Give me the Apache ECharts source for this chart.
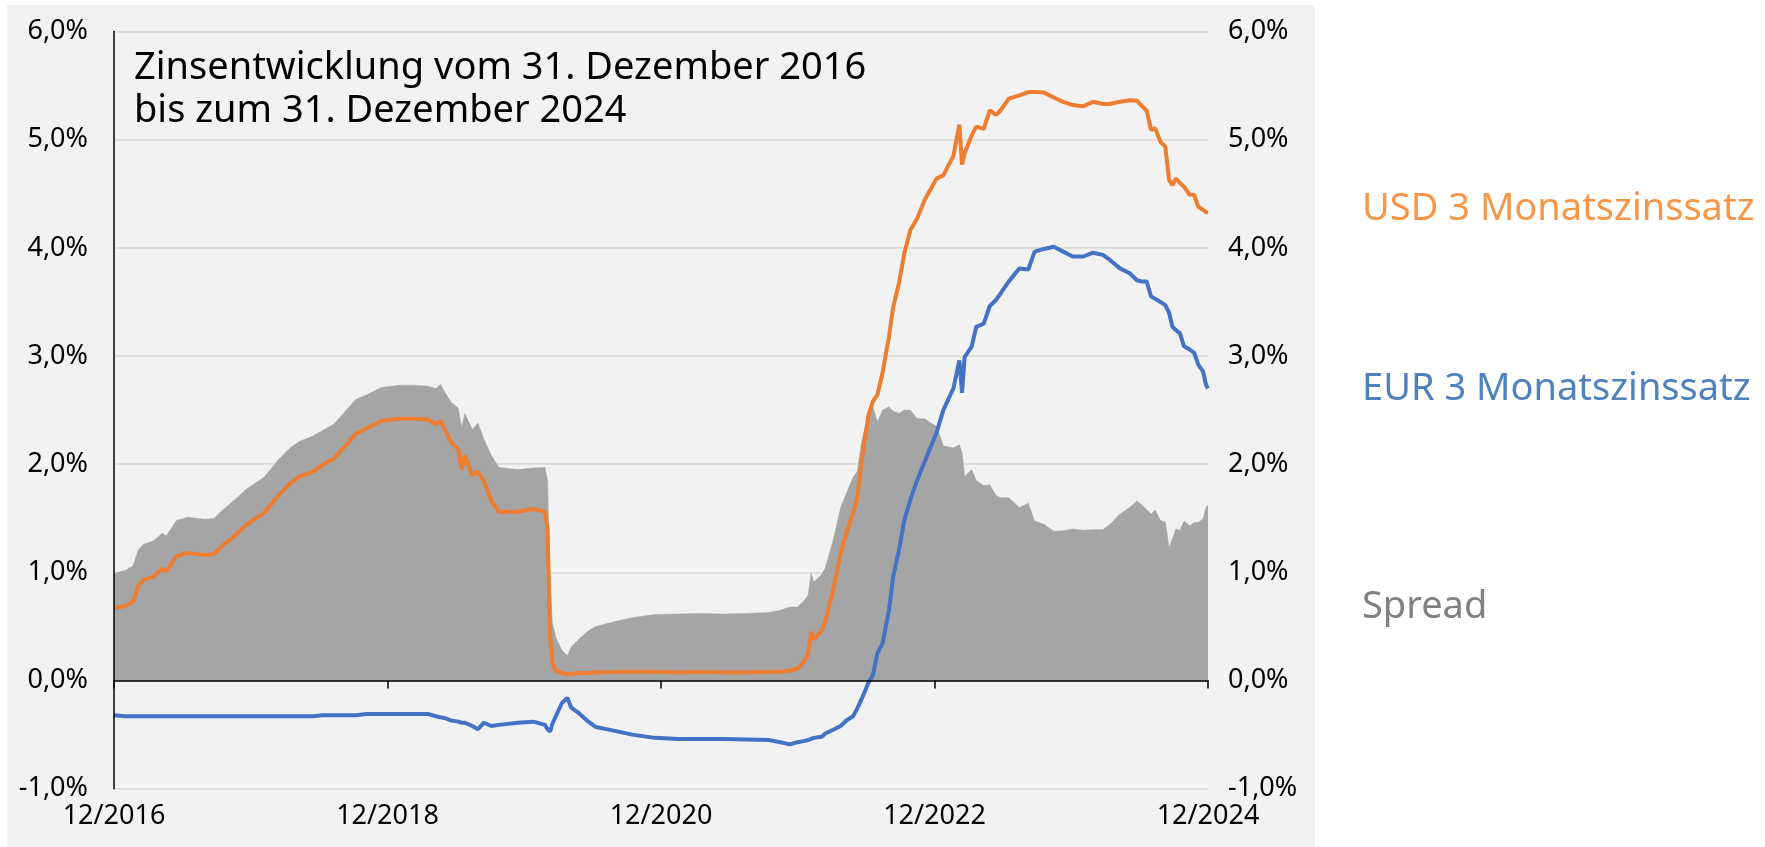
<!DOCTYPE html>
<html>
<head>
<meta charset="utf-8">
<script src="https://cdn.jsdelivr.net/npm/echarts@6/dist/echarts.min.js"></script>
<style>
html,body{margin:0;padding:0;background:#fff;}
#chart{width:1765px;height:847px;}
</style>
</head>
<body>
<div id="chart"></div>
<script>
const dates = [
'2016-12-31','2017-01-31','2017-02-20','2017-03-06','2017-03-20','2017-04-15','2017-05-08','2017-05-20','2017-05-28','2017-06-16',
'2017-07-15','2017-09-01','2017-09-25','2017-10-15','2017-11-15','2017-12-20','2018-02-05','2018-03-15','2018-04-15','2018-05-10',
'2018-06-15','2018-07-10','2018-08-10','2018-09-05','2018-10-08','2018-11-05','2018-12-15','2019-02-01','2019-03-15','2019-04-20',
'2019-05-10','2019-05-22','2019-06-05','2019-06-20','2019-07-08','2019-07-18','2019-07-26','2019-08-15','2019-08-30','2019-09-15',
'2019-10-05','2019-10-25','2019-12-15','2020-01-25','2020-02-25','2020-03-03','2020-03-10','2020-03-16','2020-03-25','2020-04-10',
'2020-04-25','2020-05-05','2020-05-25','2020-06-20','2020-07-10','2020-09-05','2020-10-15','2020-12-15','2021-02-15','2021-04-15',
'2021-06-15','2021-08-15','2021-10-15','2021-11-15','2021-12-10','2021-12-31','2022-01-15','2022-01-28','2022-02-05','2022-02-12',
'2022-03-05','2022-03-15','2022-04-05','2022-04-25','2022-05-10','2022-05-28','2022-06-08','2022-06-20','2022-07-08','2022-07-20',
'2022-08-01','2022-08-15','2022-09-01','2022-09-12','2022-09-28','2022-10-12','2022-10-28','2022-11-15','2022-12-05','2022-12-20',
'2023-01-06','2023-01-24','2023-02-20','2023-03-08','2023-03-15','2023-03-22','2023-04-10','2023-04-22','2023-05-12','2023-05-28',
'2023-06-14','2023-06-26','2023-07-18','2023-08-15','2023-09-08','2023-09-25','2023-10-20','2023-11-15','2023-12-10','2024-01-05',
'2024-02-02','2024-02-28','2024-03-25','2024-04-12','2024-05-10','2024-06-05','2024-06-24','2024-07-05','2024-07-20','2024-08-01',
'2024-08-12','2024-08-26','2024-09-08','2024-09-18','2024-09-27','2024-10-06','2024-10-17','2024-10-28','2024-11-12','2024-11-24',
'2024-12-05','2024-12-18','2024-12-26','2024-12-31'
];
const usdRate = [
0.67,0.69,0.73,0.88,0.93,0.96,1.03,1.01,1.05,1.15,
1.18,1.16,1.17,1.24,1.33,1.44,1.55,1.71,1.82,1.885,
1.93,1.99,2.05,2.15,2.28,2.33,2.40,2.42,2.42,2.41,
2.37,2.40,2.30,2.20,2.14,1.95,2.08,1.90,1.93,1.84,
1.66,1.56,1.56,1.585,1.56,1.40,0.40,0.16,0.09,0.07,
0.06,0.06,0.07,0.07,0.075,0.08,0.08,0.08,0.075,0.08,
0.075,0.075,0.08,0.08,0.09,0.11,0.17,0.24,0.45,0.38,
0.46,0.55,0.84,1.18,1.36,1.55,1.67,2.04,2.45,2.58,
2.64,2.85,3.18,3.45,3.68,3.95,4.165,4.27,4.44,4.535,
4.64,4.67,4.85,5.14,4.77,4.875,5.04,5.12,5.10,5.27,
5.23,5.27,5.38,5.41,5.44,5.44,5.435,5.39,5.35,5.32,
5.31,5.35,5.33,5.33,5.35,5.365,5.36,5.32,5.27,5.09,
5.105,4.98,4.935,4.63,4.58,4.64,4.60,4.565,4.49,4.49,
4.38,4.35,4.33,4.325
];
const eurRate = [
-0.32,-0.33,-0.33,-0.33,-0.33,-0.33,-0.33,-0.33,-0.33,-0.33,
-0.33,-0.33,-0.33,-0.33,-0.33,-0.33,-0.33,-0.33,-0.33,-0.33,
-0.33,-0.32,-0.32,-0.32,-0.32,-0.31,-0.31,-0.31,-0.31,-0.31,
-0.33,-0.34,-0.35,-0.37,-0.38,-0.39,-0.39,-0.42,-0.45,-0.39,
-0.42,-0.41,-0.39,-0.38,-0.41,-0.45,-0.47,-0.40,-0.33,-0.21,
-0.16,-0.25,-0.30,-0.38,-0.43,-0.47,-0.50,-0.53,-0.54,-0.54,
-0.54,-0.545,-0.55,-0.57,-0.59,-0.57,-0.56,-0.55,-0.54,-0.53,
-0.52,-0.49,-0.455,-0.42,-0.37,-0.33,-0.26,-0.17,-0.02,0.05,
0.25,0.345,0.65,0.96,1.21,1.485,1.67,1.85,2.02,2.15,
2.29,2.50,2.70,2.96,2.66,2.99,3.09,3.27,3.30,3.46,
3.52,3.58,3.69,3.81,3.80,3.965,3.99,4.01,3.965,3.92,
3.92,3.955,3.935,3.89,3.81,3.765,3.70,3.69,3.69,3.55,
3.53,3.50,3.47,3.40,3.27,3.24,3.21,3.09,3.06,3.03,
2.92,2.855,2.73,2.70
];
const spread = [
0.99,1.02,1.06,1.21,1.26,1.29,1.36,1.34,1.38,1.48,
1.51,1.49,1.50,1.57,1.66,1.77,1.88,2.04,2.15,2.21,
2.26,2.31,2.37,2.47,2.60,2.64,2.71,2.73,2.73,2.72,
2.70,2.74,2.65,2.57,2.52,2.34,2.47,2.32,2.38,2.23,
2.08,1.97,1.95,1.965,1.97,1.85,0.85,0.53,0.40,0.28,
0.23,0.31,0.38,0.46,0.50,0.55,0.58,0.61,0.615,0.62,
0.615,0.62,0.63,0.65,0.68,0.68,0.73,0.79,0.99,0.91,
0.98,1.04,1.30,1.60,1.73,1.88,1.93,2.21,2.47,2.53,
2.39,2.50,2.53,2.49,2.47,2.50,2.50,2.42,2.42,2.385,
2.35,2.17,2.15,2.18,2.11,1.885,1.95,1.85,1.80,1.81,
1.71,1.69,1.69,1.60,1.64,1.475,1.445,1.38,1.385,1.40,
1.39,1.395,1.395,1.44,1.54,1.60,1.66,1.63,1.58,1.54,
1.575,1.48,1.465,1.23,1.31,1.40,1.39,1.475,1.43,1.46,
1.46,1.495,1.60,1.625
];
const xTickLabels = ['12/2016','12/2018','12/2020','12/2022','12/2024'];
const yTicks = [-1, 0, 1, 2, 3, 4, 5, 6];
const seriesNames = ['USD 3 Monatszinssatz', 'EUR 3 Monatszinssatz', 'Spread'];
const titleText = 'Zinsentwicklung vom 31. Dezember 2016\nbis zum 31. Dezember 2024';

const FONT = '"Noto Sans", "Open Sans", sans-serif';
const startMs = Date.UTC(2016, 11, 31);
function dayOffset(s) {
  const p = s.split('-').map(Number);
  return (Date.UTC(p[0], p[1] - 1, p[2]) - startMs) / 86400000;
}
const xMax = dayOffset('2024-12-31');
const xStep = xMax / (xTickLabels.length - 1);
const pct = v => v.toFixed(1).replace('.', ',') + '%';

const usdData = dates.map((d, i) => [dayOffset(d), usdRate[i]]);
const eurData = dates.map((d, i) => [dayOffset(d), eurRate[i]]);
const spreadData = dates.map((d, i) => [dayOffset(d), spread[i]]);

const chart = echarts.init(document.getElementById('chart'), null, {renderer: 'canvas'});
const yMin = yTicks[0], yMax = yTicks[yTicks.length - 1];
const labelStyle = {fontFamily: FONT, fontSize: 27, color: '#000'};

chart.setOption({
  animation: false,
  backgroundColor: '#ffffff',
  title: {
    text: titleText,
    left: 129,
    top: 42,
    textStyle: {fontFamily: FONT, fontSize: 38, lineHeight: 43, fontWeight: 'normal', color: '#000'}
  },
  graphic: [
    {type: 'rect', z: -100, silent: true, shape: {x: 7, y: 5, width: 1308, height: 842}, style: {fill: '#f2f2f2'}},
    {type: 'text', x: 1362, y: 209, silent: true, style: {text: seriesNames[0], fill: '#F79646', font: '38px ' + FONT, verticalAlign: 'middle'}},
    {type: 'text', x: 1362, y: 389, silent: true, style: {text: seriesNames[1], fill: '#4F81BD', font: '38px ' + FONT, verticalAlign: 'middle'}},
    {type: 'text', x: 1362, y: 607, silent: true, style: {text: seriesNames[2], fill: '#808080', font: '38px ' + FONT, verticalAlign: 'middle'}}
  ],
  grid: {left: 114, right: 557, top: 31.5, bottom: 58.3, containLabel: false},
  xAxis: [
    {
      type: 'value', min: 0, max: xMax, interval: xStep, position: 'bottom',
      axisLine: {show: false, onZero: false}, axisTick: {show: false}, splitLine: {show: false},
      axisLabel: Object.assign({margin: 14, showMinLabel: true, showMaxLabel: true,
        formatter: v => xTickLabels[Math.round(v / xStep)] || ''}, labelStyle)
    },
    {
      type: 'value', min: 0, max: xMax, interval: xStep, position: 'bottom', z: 10,
      axisLine: {show: true, onZero: true, lineStyle: {color: '#000', width: 1.5}},
      axisTick: {show: true, length: 8, lineStyle: {color: '#000', width: 1.5}},
      axisLabel: {show: false}, splitLine: {show: false}
    }
  ],
  yAxis: [
    {
      type: 'value', min: yMin, max: yMax, interval: 1, position: 'left',
      axisLine: {show: false}, axisTick: {show: false},
      axisLabel: Object.assign({margin: 26, formatter: pct}, labelStyle),
      splitLine: {show: true, lineStyle: {color: '#d9d9d9', width: 1.5}}
    },
    {
      type: 'value', min: yMin, max: yMax, interval: 1, position: 'right',
      axisLine: {show: false}, axisTick: {show: false},
      axisLabel: Object.assign({margin: 20, formatter: pct}, labelStyle),
      splitLine: {show: false}
    },
    {
      type: 'value', min: yMin, max: yMax, interval: 1, position: 'left', z: 10,
      axisLine: {show: true, onZero: false, lineStyle: {color: '#000', width: 1.5}},
      axisTick: {show: false}, axisLabel: {show: false}, splitLine: {show: false}
    }
  ],
  series: [
    {
      name: seriesNames[2], type: 'line', data: spreadData, xAxisIndex: 0, yAxisIndex: 0,
      symbol: 'none', z: 1, silent: true,
      lineStyle: {width: 0.5, color: '#a5a5a5'},
      areaStyle: {color: '#a5a5a5', opacity: 1}
    },
    {
      name: seriesNames[0], type: 'line', data: usdData, xAxisIndex: 0, yAxisIndex: 0,
      symbol: 'none', z: 3, silent: true,
      lineStyle: {width: 4, color: '#ED7D31'}
    },
    {
      name: seriesNames[1], type: 'line', data: eurData, xAxisIndex: 0, yAxisIndex: 0,
      symbol: 'none', z: 3, silent: true,
      lineStyle: {width: 4, color: '#4472C4'}
    }
  ]
});
</script>
</body>
</html>
